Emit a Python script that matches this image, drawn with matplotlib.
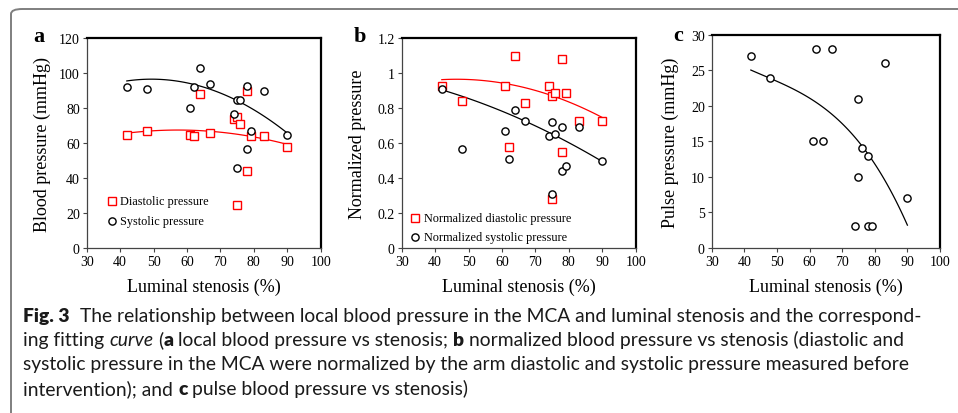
import numpy as np
import matplotlib
matplotlib.use("Agg")
import matplotlib.pyplot as plt
from matplotlib.patches import FancyBboxPatch
from matplotlib.ticker import FuncFormatter

# one entry per patient
stenosis = [42, 48, 61, 62, 64, 67, 74, 75, 75, 76, 78, 78, 79, 83, 90]
diastolic = [65, 67, 65, 64, 88, 66, 74, 75, 25, 71, 90, 44, 64, 64, 58]
systolic = [92, 91, 80, 92, 103, 94, 77, 85, 46, 85, 93, 57, 67, 90, 65]
norm_diastolic = [0.93, 0.84, 0.93, 0.58, 1.10, 0.83, 0.93, 0.87, 0.28, 0.89, 1.08, 0.55, 0.89, 0.73, 0.73]
norm_systolic = [0.91, 0.57, 0.67, 0.51, 0.79, 0.73, 0.64, 0.72, 0.31, 0.655, 0.695, 0.44, 0.47, 0.695, 0.50]
pulse = [27, 24, 15, 28, 15, 28, 3, 10, 21, 14, 3, 13, 3, 26, 7]

# fitted curves, sampled off the figure
fit_sys_x = [42, 62, 75, 80, 90]
fit_sys_y = [95.8, 93.0, 84.8, 79.6, 65.5]
fit_dia_x = [42, 48, 67, 79, 90]
fit_dia_y = [65.9, 66.8, 66.6, 64.4, 59.2]
fit_ndia_x = [42, 61, 75, 84, 90]
fit_ndia_y = [0.966, 0.933, 0.88, 0.806, 0.743]
fit_nsys_x = [42, 67, 75, 90]
fit_nsys_y = [0.905, 0.73, 0.648, 0.497]
fit_pulse_x = [42, 48, 53.5, 60, 63.7, 70, 75, 78, 83.2, 90]
fit_pulse_y = [25, 24, 22.7, 21, 20, 17.5, 15, 13.1, 9.5, 3.15]

SERIF = ["Liberation Serif", "DejaVu Serif"]
CAPTION_FONT = ["Lato", "DejaVu Sans"]
RED = "#ff0000"

W, H = 958, 414
fig = plt.figure(figsize=(W / 100, H / 100), dpi=100)


def px_axes(left, top, right, bottom):
    return fig.add_axes([left / W, 1 - bottom / H, (right - left) / W, (bottom - top) / H])


def fit_line(ax, xs, ys, color, deg=2):
    coef = np.polyfit(xs, ys, deg)
    xx = np.linspace(min(xs), max(xs), 100)
    ax.plot(xx, np.polyval(coef, xx), color=color, lw=0.9, zorder=2)


def style_axes(ax, ylim, yticks, ylabel, fmt):
    ax.set_xlim(30, 100)
    ax.set_xticks(range(30, 101, 10))
    ax.set_ylim(*ylim)
    ax.set_yticks(yticks)
    ax.yaxis.set_major_formatter(FuncFormatter(fmt))
    for side in ("top", "right"):
        ax.spines[side].set_linewidth(1.6)
        ax.spines[side].set_color("black")
    for side in ("left", "bottom"):
        ax.spines[side].set_linewidth(0.9)
        ax.spines[side].set_color("#444444")
    ax.tick_params(direction="out", length=3, width=0.8, color="#444444", labelsize=10, pad=2)
    for lab in ax.get_xticklabels() + ax.get_yticklabels():
        lab.set_family(SERIF)
    ax.set_xlabel("Luminal stenosis (%)", family=SERIF, fontsize=13)
    ax.set_ylabel(ylabel, family=SERIF, fontsize=13)
    ax.xaxis.set_label_coords(0.5, -0.14)


def sq(ax, x, y, **kw):
    ax.plot(x, y, ls="none", marker="s", ms=5.2, mfc="white", mec=RED, mew=1.0, zorder=3, **kw)


def circ(ax, x, y, **kw):
    ax.plot(x, y, ls="none", marker="o", ms=5.2, mfc="white", mec="black", mew=1.0, zorder=3, **kw)


def key(ax, x, y1, y2, tx, labels):
    sq(ax, [x], [y1], transform=ax.transAxes, clip_on=False)
    circ(ax, [x], [y2], transform=ax.transAxes, clip_on=False)
    for y, lab in ((y1, labels[0]), (y2, labels[1])):
        ax.text(tx, y, lab, transform=ax.transAxes, family=SERIF, fontsize=8.8, va="center")


# panel a
ax_a = px_axes(86.7, 39.3, 320.7, 249.3)
fit_line(ax_a, fit_sys_x, fit_sys_y, "black")
fit_line(ax_a, fit_dia_x, fit_dia_y, RED)
sq(ax_a, stenosis, diastolic)
circ(ax_a, stenosis, systolic)
style_axes(ax_a, (0, 120), range(0, 121, 20), "Blood pressure (mmHg)", lambda v, p: f"{v:g}")
ax_a.yaxis.set_label_coords(-0.153, 0.5)
key(ax_a, 0.107, 0.225, 0.13, 0.142, ["Diastolic pressure", "Systolic pressure"])

# panel b
ax_b = px_axes(401.7, 39.3, 635.7, 249.3)
fit_line(ax_b, fit_ndia_x, fit_ndia_y, RED)
fit_line(ax_b, fit_nsys_x, fit_nsys_y, "black")
sq(ax_b, stenosis, norm_diastolic)
circ(ax_b, stenosis, norm_systolic)
style_axes(ax_b, (0, 1.2), np.arange(0, 1.21, 0.2), "Normalized pressure", lambda v, p: f"{round(v, 1):g}")
ax_b.yaxis.set_label_coords(-0.154, 0.5)
key(ax_b, 0.057, 0.144, 0.054, 0.095, ["Normalized diastolic pressure", "Normalized systolic pressure"])

# panel c
ax_c = px_axes(711.7, 36.0, 940.0, 248.7)
fit_line(ax_c, fit_pulse_x, fit_pulse_y, "black", deg=3)
circ(ax_c, stenosis, pulse)
style_axes(ax_c, (0, 30), range(0, 31, 5), "Pulse pressure (mmHg)", lambda v, p: f"{v:g}")
ax_c.yaxis.set_label_coords(-0.145, 0.5)

for letter, x, y in (("a", 39, 37), ("b", 360, 37), ("c", 678, 36)):
    fig.text(x / W, 1 - y / H, letter, family=SERIF, weight="bold", fontsize=16,
             ha="center", va="center")

# rounded frame around figure + caption
frame = FancyBboxPatch((11 / W, -20 / H), 1.2, (H - 10 + 20) / H,
                       boxstyle="round,pad=0,rounding_size=0.012", transform=fig.transFigure,
                       fill=False, ec="#7f7f7f", lw=1.4, clip_on=False)
fig.patches.append(frame)

caption = [
    [("Fig. 3", "bold"), ("  The relationship between local blood pressure in the MCA and luminal stenosis and the correspond-", "normal")],
    [("ing fitting ", "normal"), ("curve", "italic"), (" (", "normal"), ("a", "bold"),
     (" local blood pressure vs stenosis; ", "normal"), ("b", "bold"),
     (" normalized blood pressure vs stenosis (diastolic and", "normal")],
    [("systolic pressure in the MCA were normalized by the arm diastolic and systolic pressure measured before", "normal")],
    [("intervention); and ", "normal"), ("c", "bold"), (" pulse blood pressure vs stenosis)", "normal")],
]
baselines = [321.7, 346.4, 370.5, 395.0]

renderer = fig.canvas.get_renderer()


def text_width(s, size, weight="normal", style="normal"):
    t = fig.text(0, 0, s, fontsize=size, family=CAPTION_FONT, weight=weight, style=style)
    w = t.get_window_extent(renderer).width
    t.remove()
    return w


# size the caption so that line 3 spans the same width as in the original
target = 907 - 23.3
cap_size = 13.0 * target / text_width(caption[2][0][0], 13.0)
space_w = text_width("a a", cap_size) - text_width("aa", cap_size)

for runs, base in zip(caption, baselines):
    x = 23.3
    for s, kind in runs:
        lead = len(s) - len(s.lstrip(" "))
        trail = len(s) - len(s.rstrip(" "))
        x += lead * space_w
        core = s.strip(" ")
        weight = "heavy" if kind == "bold" else "normal"
        style = "italic" if kind == "italic" else "normal"
        t = fig.text(x / W, 1 - base / H, core, fontsize=cap_size, family=CAPTION_FONT,
                     weight=weight, style=style, va="baseline", color="#1a1a1a")
        x += t.get_window_extent(renderer).width
        x += trail * space_w

fig.savefig("out.png", dpi=100)
